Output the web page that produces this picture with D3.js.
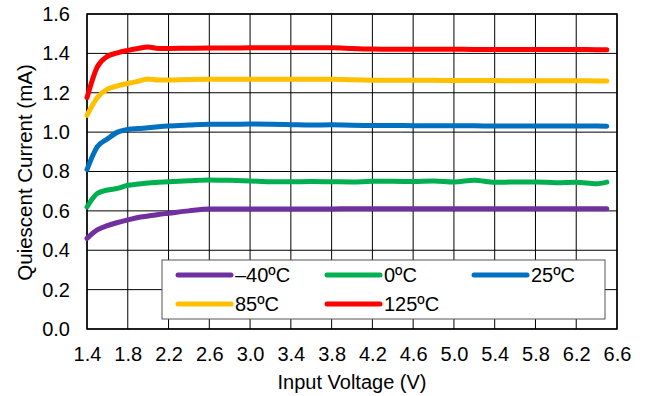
<!DOCTYPE html>
<html><head><meta charset="utf-8">
<script src="https://cdn.jsdelivr.net/npm/d3@7"></script>
<style>body{margin:0;background:#fff}svg{display:block}text{font-family:"Liberation Sans",Arial,sans-serif;fill:#000}</style>
</head><body><svg id="c" width="646" height="396"></svg>
<script>
const voltage = [1.4,1.5,1.6,1.7,1.8,1.9,2.0,2.1,2.2,2.4,2.6,2.8,3.0,3.2,3.4,3.6,3.8,4.0,4.2,4.4,4.6,4.8,5.0,5.2,5.4,5.6,5.8,6.0,6.2,6.4,6.5];
const iqM40 = [0.46,0.503,0.525,0.541,0.554,0.566,0.574,0.582,0.588,0.6,0.609,0.61,0.61,0.61,0.61,0.61,0.61,0.611,0.611,0.611,0.611,0.611,0.611,0.611,0.611,0.611,0.611,0.611,0.611,0.611,0.611];
const iq0 = [0.62,0.688,0.706,0.714,0.73,0.736,0.742,0.745,0.748,0.753,0.757,0.755,0.752,0.748,0.748,0.749,0.748,0.747,0.75,0.75,0.749,0.752,0.747,0.756,0.745,0.747,0.747,0.743,0.746,0.738,0.746];
const iq25 = [0.81,0.925,0.965,1.0,1.013,1.018,1.022,1.027,1.031,1.036,1.04,1.04,1.041,1.04,1.038,1.036,1.037,1.035,1.034,1.034,1.033,1.033,1.032,1.032,1.031,1.031,1.031,1.031,1.031,1.031,1.03];
const iq85 = [1.085,1.175,1.218,1.235,1.247,1.258,1.27,1.265,1.265,1.267,1.268,1.268,1.269,1.269,1.269,1.269,1.269,1.266,1.264,1.263,1.263,1.263,1.262,1.262,1.262,1.261,1.261,1.261,1.261,1.26,1.26];
const iq125 = [1.175,1.33,1.385,1.403,1.415,1.425,1.432,1.425,1.425,1.426,1.427,1.427,1.428,1.428,1.428,1.428,1.428,1.425,1.422,1.421,1.421,1.421,1.421,1.42,1.42,1.42,1.42,1.42,1.42,1.419,1.419];
const seriesNames = ["\u201340\u00BAC","0\u00BAC","25\u00BAC","85\u00BAC","125\u00BAC"];
const seriesColors = ["#7030A0","#00B050","#0070C0","#FFC000","#FF0000"];
const xTicks = [1.4,1.8,2.2,2.6,3.0,3.4,3.8,4.2,4.6,5.0,5.4,5.8,6.2,6.6];
const yTicks = [0.0,0.2,0.4,0.6,0.8,1.0,1.2,1.4,1.6];

const svg = d3.select("#c");
const L=87,R=617,T=14,B=329;
const FS=20;
const x = d3.scaleLinear().domain([1.4,6.6]).range([L,R]);
const y = d3.scaleLinear().domain([0,1.6]).range([B,T]);

const g = svg.append("g");
g.selectAll(".vg").data(xTicks).join("line").attr("x1",d=>x(d)).attr("x2",d=>x(d)).attr("y1",T).attr("y2",B).attr("stroke","#000").attr("stroke-width",1);
g.selectAll(".hg").data(yTicks).join("line").attr("y1",d=>y(d)).attr("y2",d=>y(d)).attr("x1",L).attr("x2",R).attr("stroke","#000").attr("stroke-width",1);
svg.append("rect").attr("x",L).attr("y",T).attr("width",R-L).attr("height",B-T).attr("fill","none").attr("stroke","#000").attr("stroke-width",1.5);

const xAxis = svg.append("g").attr("transform",`translate(0,${B})`).call(d3.axisBottom(x).tickValues(xTicks).tickFormat(d3.format(".1f")).tickSize(0).tickPadding(18));
xAxis.select(".domain").remove();
xAxis.selectAll("text").attr("font-size",FS).attr("font-family","Liberation Sans, Arial");
const yAxis = svg.append("g").attr("transform",`translate(${L},0)`).call(d3.axisLeft(y).tickValues(yTicks).tickFormat(d3.format(".1f")).tickSize(0).tickPadding(17));
yAxis.select(".domain").remove();
yAxis.selectAll("text").attr("font-size",FS).attr("font-family","Liberation Sans, Arial");

const all = [iqM40,iq0,iq25,iq85,iq125];
const line = d3.line().x((d,i)=>x(voltage[i])).y(d=>y(d)).curve(d3.curveMonotoneX);
svg.selectAll(".s").data(all).join("path").attr("d",line).attr("fill","none")
  .attr("stroke",(d,i)=>seriesColors[i]).attr("stroke-width",5).attr("stroke-linecap","round").attr("stroke-linejoin","round");

// legend
const lg = svg.append("g");
lg.append("rect").attr("x",162).attr("y",260).attr("width",443).attr("height",59).attr("fill","#fff").attr("stroke","#555").attr("stroke-width",1);
const pos = [[178,275],[327,275],[474,275],[178,304],[327,304]];
seriesNames.forEach((n,i)=>{
  const [px,py]=pos[i];
  lg.append("line").attr("x1",px).attr("x2",px+53).attr("y1",py).attr("y2",py).attr("stroke",seriesColors[i]).attr("stroke-width",5).attr("stroke-linecap","round");
  lg.append("text").attr("x",px+57).attr("y",py).attr("dy","0.36em").attr("font-size",FS).text(n);
});

svg.append("text").attr("x",(L+R)/2).attr("y",389).attr("text-anchor","middle").attr("font-size",FS).text("Input Voltage (V)");
svg.append("text").attr("transform",`translate(25,${(T+B)/2+1}) rotate(-90)`).attr("text-anchor","middle").attr("dy","0.35em").attr("font-size",20.5).text("Quiescent Current (mA)");
</script></body></html>
